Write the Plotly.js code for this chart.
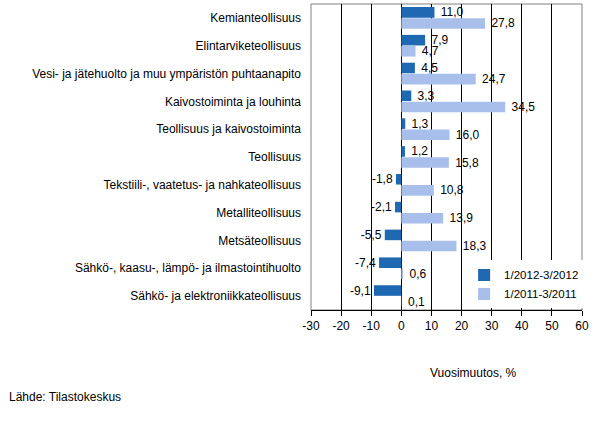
<!DOCTYPE html>
<html>
<head>
<meta charset="utf-8">
<script src="https://cdn.plot.ly/plotly-3.0.1.min.js"></script>
<style>
  html, body { margin: 0; padding: 0; background: #fff; }
  #plot { width: 598px; height: 421px; }
</style>
</head>
<body>
<div id="plot"></div>
<script>
var categories = [
   'Kemianteollisuus',
   'Elintarviketeollisuus',
   'Vesi- ja jätehuolto ja muu ympäristön puhtaanapito',
   'Kaivostoiminta ja louhinta',
   'Teollisuus ja kaivostoiminta',
   'Teollisuus',
   'Tekstiili-, vaatetus- ja nahkateollisuus',
   'Metalliteollisuus',
   'Metsäteollisuus',
   'Sähkö-, kaasu-, lämpö- ja ilmastointihuolto',
   'Sähkö- ja elektroniikkateollisuus'
];
var series2012 = [11.0, 7.9, 4.5, 3.3, 1.3, 1.2, -1.8, -2.1, -5.5, -7.4, -9.1];
var series2011 = [27.8, 4.7, 24.7, 34.5, 16.0, 15.8, 10.8, 13.9, 18.3, 0.6, 0.1];
var tickValues = [-30, -20, -10, 0, 10, 20, 30, 40, 50, 60];
var tickLabels = ['-30', '-20', '-10', '0', '10', '20', '30', '40', '50', '60'];

var FONT = 'Liberation Sans, Arial, sans-serif';

// a no-break space in front pushes positive labels a little off the bar end
var trace2012 = {
   name: '1/2012-3/2012',
   type: 'bar',
   orientation: 'h',
   y: categories,
   x: series2012,
   marker: {color: '#1f69b3'},
   texttemplate: '\u00a0%{x:.1f}',
   textposition: 'outside',
   constraintext: 'none',
   cliponaxis: false,
   textfont: {family: FONT, size: 12, color: '#000'},
   hoverinfo: 'x+y'
};
var trace2011 = {
   name: '1/2011-3/2011',
   type: 'bar',
   orientation: 'h',
   y: categories,
   x: series2011,
   marker: {color: '#a8bfeb'},
   texttemplate: '\u00a0%{x:.1f}',
   textposition: 'outside',
   constraintext: 'none',
   cliponaxis: false,
   textfont: {family: FONT, size: 12, color: '#000'},
   hoverinfo: 'x+y'
};

var layout = {
   width: 598,
   height: 421,
   margin: {l: 311, r: 16, t: 4, b: 111},
   paper_bgcolor: '#fff',
   plot_bgcolor: '#fff',
   separators: ',.',
   font: {family: FONT, size: 11, color: '#000'},
   barmode: 'group',
   bargap: 0.2,
   bargroupgap: 0.05,
   showlegend: true,
   legend: {
      x: 0.565, y: 0.005, xanchor: 'left', yanchor: 'bottom',
      bgcolor: '#fff', borderwidth: 0,
      font: {family: FONT, size: 11.5},
      itemwidth: 30,
      tracegroupgap: 0
   },
   xaxis: {
      range: [-30, 60],
      tickvals: tickValues,
      ticktext: tickLabels,
      showgrid: true,
      gridcolor: '#000',
      gridwidth: 1,
      zeroline: true,
      zerolinecolor: '#000',
      zerolinewidth: 1,
      showline: true,
      linecolor: '#000',
      linewidth: 1,
      ticks: 'outside',
      ticklen: 5,
      tickcolor: '#000',
      tickfont: {family: FONT, size: 12}
   },
   yaxis: {
      autorange: 'reversed',
      showgrid: false,
      zeroline: false,
      showline: false,
      ticks: '',
      ticklabelstandoff: 9,
      tickfont: {family: FONT, size: 12}
   },
   shapes: [{
      type: 'rect', xref: 'paper', yref: 'paper',
      x0: 0, x1: 1, y0: 0, y1: 1,
      line: {color: '#808080', width: 1},
      layer: 'below'
   }],
   annotations: [
      {
         text: 'Vuosimuutos, %', xref: 'paper', yref: 'paper',
         x: 0.60, y: -0.205, xanchor: 'center', yanchor: 'middle',
         showarrow: false, font: {family: FONT, size: 12}
      },
      {
         text: 'Lähde: Tilastokeskus', xref: 'paper', yref: 'paper',
         x: -1.12, y: -0.285, xanchor: 'left', yanchor: 'middle',
         showarrow: false, font: {family: FONT, size: 12}
      }
   ]
};

Plotly.newPlot('plot', [trace2012, trace2011], layout, {displayModeBar: false, staticPlot: true});
</script>
</body>
</html>
